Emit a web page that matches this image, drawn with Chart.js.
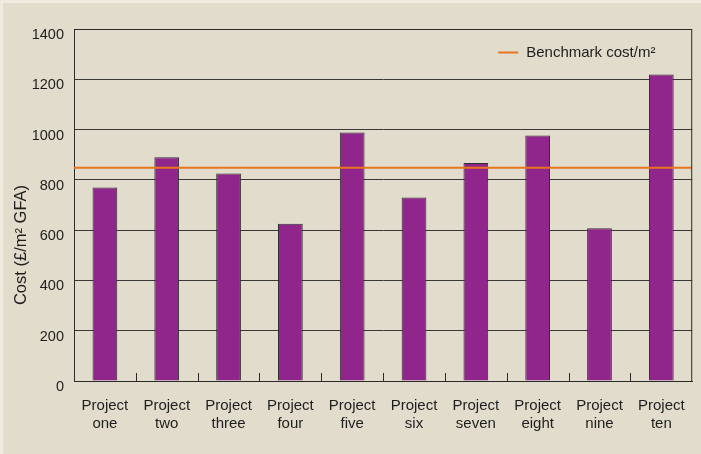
<!DOCTYPE html>
<html>
<head>
<meta charset="utf-8">
<script src="https://cdn.jsdelivr.net/npm/chart.js@4/dist/chart.umd.min.js"></script>
<style>
  html, body { margin: 0; padding: 0; background: #efebdf; }
  #wrap { position: absolute; left: 3px; top: 3px; width: 698px; height: 451px; background: #e1dccb; }
  canvas { display: block; }
</style>
</head>
<body>
<div id="wrap"><canvas id="c" width="698" height="451"></canvas></div>
<script>
const categories = [
  ['Project', 'one'], ['Project', 'two'], ['Project', 'three'], ['Project', 'four'], ['Project', 'five'],
  ['Project', 'six'], ['Project', 'seven'], ['Project', 'eight'], ['Project', 'nine'], ['Project', 'ten']
];
const projectCost = [770, 890, 825, 625, 988, 730, 867, 976, 608, 1219];
const benchmarkCost = [848, 848];
const benchmarkLabel = 'Benchmark cost/m\u00B2';
const yAxisTitle = 'Cost (\u00A3/m\u00B2 GFA)';
const yTicks = [0, 200, 400, 600, 800, 1000, 1200, 1400];

const FONT = "'Liberation Sans', Arial, Helvetica, sans-serif";
const TEXT = '#1e1e1e';

const decorPlugin = {
  id: 'decor',
  afterDatasetsDraw(chart) {
    const ctx = chart.ctx;
    const a = chart.chartArea;
    const xs = chart.scales.x;
    ctx.save();
    ctx.strokeStyle = '#2a2a2a';
    ctx.lineWidth = 1;
    ctx.beginPath();
    ctx.moveTo(a.left, a.top + 0.5);
    ctx.lineTo(a.right - 0.5, a.top + 0.5);
    ctx.lineTo(a.right - 0.5, a.bottom);
    ctx.stroke();
    ctx.beginPath();
    for (let i = 1; i < categories.length; i++) {
      const x = Math.round((xs.getPixelForValue(i - 1) + xs.getPixelForValue(i)) / 2) + 0.5;
      ctx.moveTo(x, a.bottom);
      ctx.lineTo(x, a.bottom - 8);
    }
    ctx.stroke();
    // legend
    const ds = chart.data.datasets[0];
    const ly = a.top + 23.5;
    const lx = a.right - 194;
    ctx.strokeStyle = ds.borderColor;
    ctx.lineWidth = 2;
    ctx.beginPath();
    ctx.moveTo(lx, ly);
    ctx.lineTo(lx + 20, ly);
    ctx.stroke();
    ctx.fillStyle = TEXT;
    ctx.font = "15px " + FONT;
    ctx.textBaseline = 'middle';
    ctx.textAlign = 'left';
    ctx.fillText(ds.label, lx + 28, ly);
    // y axis title
    ctx.translate(18.5, (a.top + a.bottom) / 2 + 40);
    ctx.rotate(-Math.PI / 2);
    ctx.textAlign = 'center';
    ctx.font = "16.5px " + FONT;
    ctx.fillText(yAxisTitle, 0, 0);
    ctx.restore();
  }
};

new Chart(document.getElementById('c'), {
  data: {
    labels: categories,
    datasets: [
      {
        type: 'line',
        label: benchmarkLabel,
        data: benchmarkCost.map((v, i) => ({ x: i, y: v })),
        xAxisID: 'x2',
        borderColor: '#e8761f',
        borderWidth: 2,
        pointRadius: 0,
        order: 0
      },
      {
        type: 'bar',
        label: 'Cost',
        data: projectCost,
        xAxisID: 'x',
        grouped: false,
        backgroundColor: '#90268c',
        borderColor: '#2e2e2e',
        borderWidth: 1,
        barPercentage: 0.8,
        categoryPercentage: 0.5,
        order: 1
      }
    ]
  },
  options: {
    responsive: false,
    animation: false,
    layout: { padding: { left: 0, right: 7, top: 26, bottom: 0 } },
    plugins: { legend: { display: false }, tooltip: { enabled: false } },
    scales: {
      x: {
        type: 'category',
        offset: true,
        grid: { display: false, drawTicks: false },
        border: { display: true, color: '#2a2a2a', width: 1 },
        ticks: { color: TEXT, font: { family: FONT, size: 15, lineHeight: 1.18 }, padding: 16, maxRotation: 0, autoSkip: false },
        afterFit(s) { s.height = 73; }
      },
      x2: {
        type: 'linear',
        display: false,
        min: 0,
        max: 1
      },
      y: {
        min: 0,
        max: 1400,
        afterBuildTicks(s) { s.ticks = yTicks.map(v => ({ value: v })); },
        grid: { color: '#383838', lineWidth: 1, drawTicks: false },
        border: { display: true, color: '#2a2a2a', width: 1 },
        ticks: { color: TEXT, font: { family: FONT, size: 14.5 }, padding: 10, labelOffset: 6, callback: v => String(v) },
        title: { display: false },
        afterFit(s) { s.width = 71; }
      }
    }
  },
  plugins: [decorPlugin]
});
</script>
</body>
</html>
